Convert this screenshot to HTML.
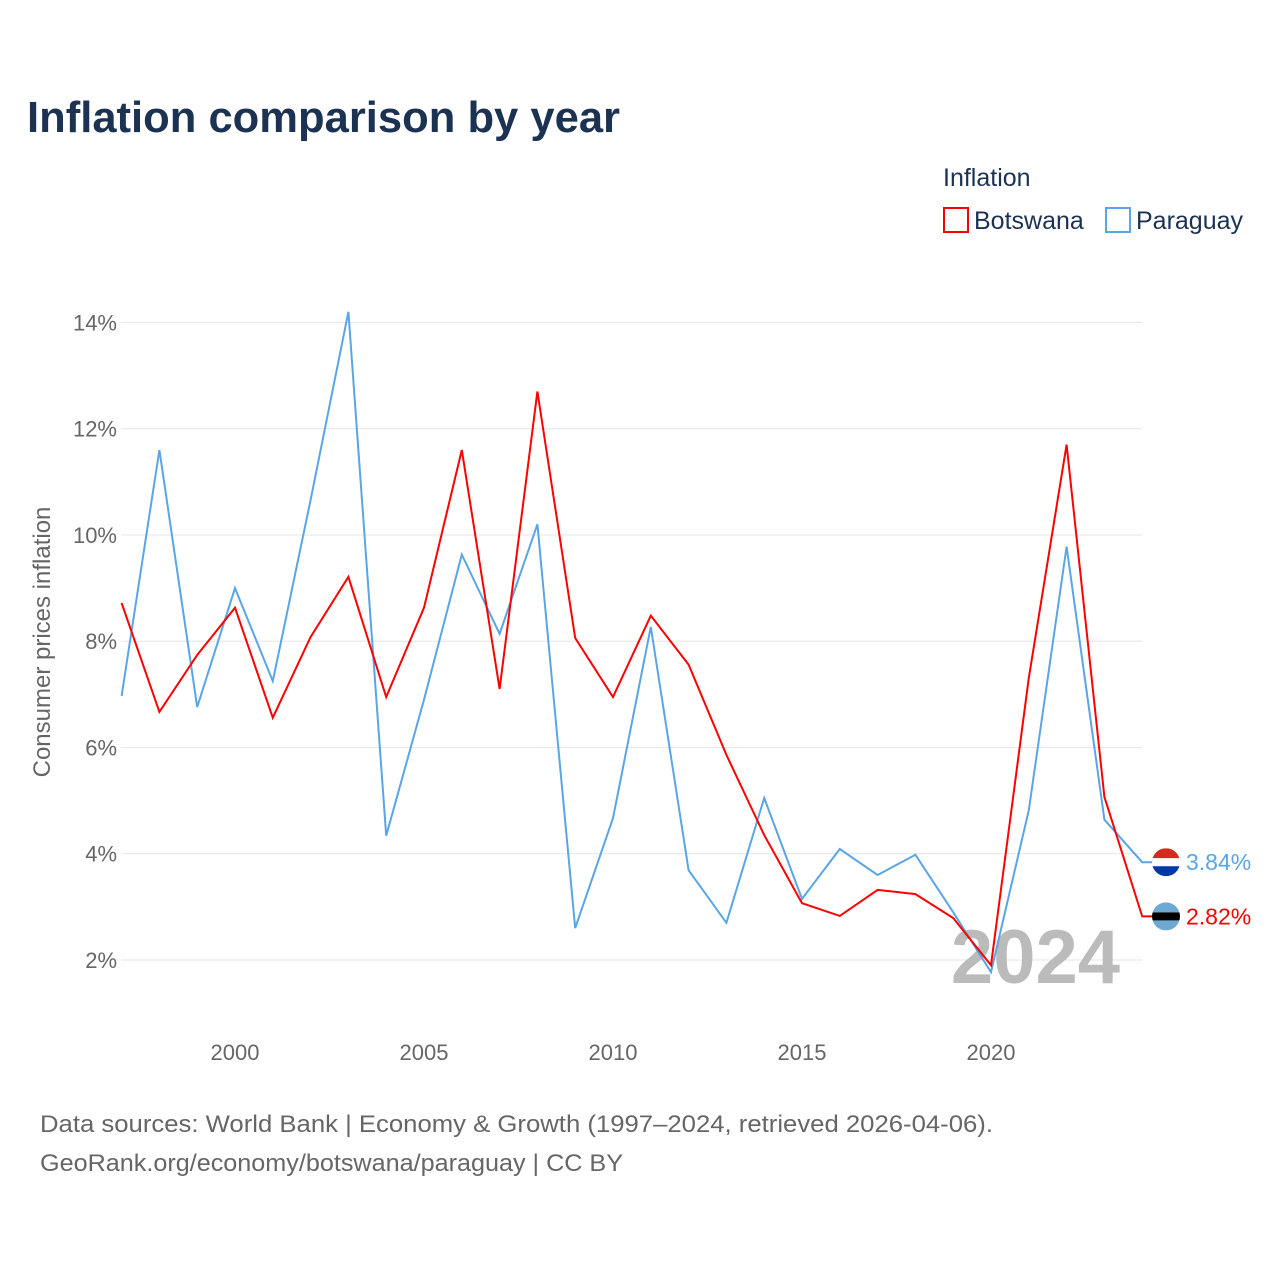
<!DOCTYPE html>
<html><head><meta charset="utf-8">
<style>
body{margin:0;background:#fff;font-family:"Liberation Sans",sans-serif;}
svg text{font-family:"Liberation Sans",sans-serif;}
</style></head>
<body>
<svg id="chart" width="1280" height="1280" viewBox="0 0 1280 1280">
<text x="27" y="132" font-size="44" font-weight="bold" fill="#1b3252" textLength="593" lengthAdjust="spacingAndGlyphs">Inflation comparison by year</text>
<text x="943" y="186" font-size="25" fill="#1b3252">Inflation</text>
<g>
<rect x="944" y="208" width="24" height="24" fill="#fff" stroke="#ff0000" stroke-width="2"/>
<text x="974" y="229" font-size="25" fill="#1b3252">Botswana</text></g>
<g>
<rect x="1106" y="208" width="24" height="24" fill="#fff" stroke="#5aa5e6" stroke-width="2"/>
<text x="1136" y="229" font-size="25" fill="#1b3252">Paraguay</text></g>
<text transform="translate(50,642) rotate(-90)" text-anchor="middle" font-size="24" fill="#666">Consumer prices inflation</text>
<g id="grid"></g>
<text x="1120" y="983" text-anchor="end" font-size="76" font-weight="bold" fill="#bbb">2024</text>
<g id="series"></g>
<text x="40" y="1132" font-size="24" fill="#666" textLength="953" lengthAdjust="spacingAndGlyphs">Data sources: World Bank | Economy &amp; Growth (1997–2024, retrieved 2026-04-06).</text>
<text x="40" y="1171" font-size="24" fill="#666" textLength="583" lengthAdjust="spacingAndGlyphs">GeoRank.org/economy/botswana/paraguay | CC BY</text>
</svg>
<script>
const years=[1997,1998,1999,2000,2001,2002,2003,2004,2005,2006,2007,2008,2009,2010,2011,2012,2013,2014,2015,2016,2017,2018,2019,2020,2021,2022,2023,2024];
const botswana=[8.72,6.67,7.74,8.63,6.56,8.08,9.21,6.95,8.63,11.6,7.1,12.7,8.06,6.95,8.48,7.56,5.86,4.35,3.07,2.83,3.32,3.24,2.79,1.9,7.31,11.7,5.07,2.82];
const paraguay=[6.97,11.6,6.76,9.0,7.25,10.66,14.2,4.34,6.9,9.63,8.14,10.2,2.6,4.67,8.27,3.69,2.7,5.05,3.15,4.09,3.6,3.98,2.9,1.77,4.82,9.78,4.64,3.84];
const yTicks=[2,4,6,8,10,12,14];
const xTicks=[2000,2005,2010,2015,2020];
const NS="http://www.w3.org/2000/svg";
const x=yr=>121.6+(yr-1997)*37.8;
const y=v=>960-(v-2)*53.13;
function mk(tag,attrs,parent){const e=document.createElementNS(NS,tag);for(const k in attrs)e.setAttribute(k,attrs[k]);parent.appendChild(e);return e;}
const grid=document.getElementById('grid');
yTicks.forEach(t=>{
  const l=mk('line',{x1:121,x2:1142,y1:y(t),y2:y(t),stroke:'#e6e6e6','stroke-width':1},grid);
  
  
  const tx=mk('text',{x:117,y:y(t)+8,'text-anchor':'end','font-size':22,fill:'#666'},grid);
  tx.textContent=t+'%';
  
  
});
xTicks.forEach(t=>{
  const tx=mk('text',{x:x(t),y:1060,'text-anchor':'middle','font-size':22,fill:'#666'},grid);
  tx.textContent=t;
  
  
});
const ser=document.getElementById('series');
function line(vals,color,name){
  const d=vals.map((v,i)=>(i?'L':'M')+x(years[i]).toFixed(1)+','+y(v).toFixed(1)).join('')+'H1154';
  const p=mk('path',{d:d,fill:'none',stroke:color,'stroke-width':2},ser);
  
  
}
line(paraguay,'#5aa5e6','line-paraguay');
line(botswana,'#ff0000','line-botswana');
function flag(v,top,mid,bot,name){
  const cy=y(v);
  const g=mk('g',{},ser);
  
  
  const cp=mk('clipPath',{id:'c'+name},g);
  mk('circle',{cx:1166,cy:cy,r:14},cp);
  const gg=mk('g',{'clip-path':'url(#c'+name+')'},g);
  mk('rect',{x:1152,y:cy-14,width:28,height:10,fill:top},gg);
  mk('rect',{x:1152,y:cy-4,width:28,height:8,fill:mid},gg);
  mk('rect',{x:1152,y:cy+4,width:28,height:10,fill:bot},gg);
}
flag(paraguay[paraguay.length-1],'#d52b1e','#fff','#0038a8','flag-paraguay');
flag(botswana[botswana.length-1],'#6da9d2','#000','#6da9d2','flag-botswana');
function lbl(v,color,name){
  const t=mk('text',{x:1186,y:y(v)+8,'font-size':23,fill:color},ser);
  t.textContent=v.toFixed(2)+'%';
  
  
}
lbl(paraguay[paraguay.length-1],'#5aa5e6','value-label-paraguay');
lbl(botswana[botswana.length-1],'#ff0000','value-label-botswana');
</script>
</body></html>
